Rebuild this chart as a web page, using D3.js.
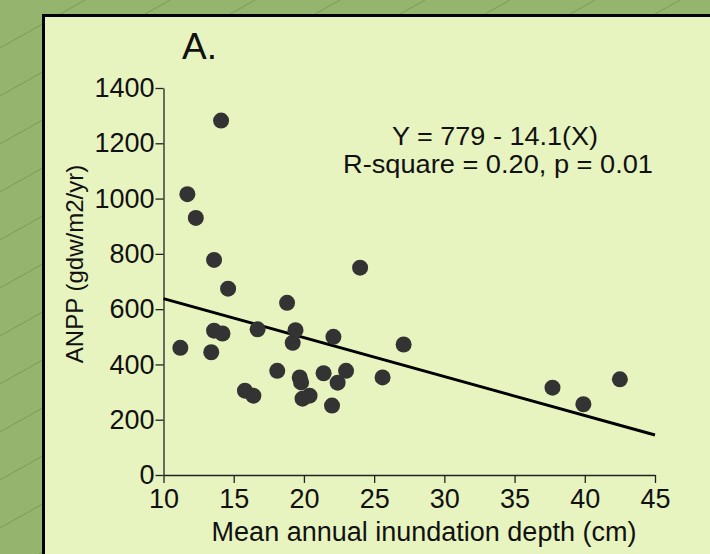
<html>
<head>
  <script src="https://d3js.org/d3.v7.min.js" charset="utf-8"></script>
  <style>
    * { margin: 0; padding: 0; }
    body { background: #94b56d; }
    svg text { font-family: "Liberation Sans", Arial, sans-serif; fill: #111; }
  </style>
</head>
<body>
<div id="graph"></div>
<script>
  // inundation depth (cm) and ANPP (gdw/m2/yr)
  var depth = [11.2, 11.7, 12.3, 13.4, 13.6, 13.6, 14.1, 14.2, 14.6, 15.8, 16.4,
    16.7, 18.1, 18.8, 19.2, 19.4, 19.7, 19.8, 19.9, 20.4, 21.4, 22.0, 22.1,
    22.4, 23.0, 24.0, 25.6, 27.1, 37.7, 39.9, 42.5];
  var anpp = [460, 1016, 930, 444, 778, 522, 1282, 512, 674, 305, 287,
    527, 377, 623, 478, 524, 353, 335, 276, 287, 368, 251, 500,
    334, 377, 750, 353, 472, 316, 256, 346];

  var xTicks = [10, 15, 20, 25, 30, 35, 40, 45];
  var yTicks = [0, 200, 400, 600, 800, 1000, 1200, 1400];

  var intercept = 779, slope = -14.1;
  var fitX = [10, 45];

  var w = 710, h = 554;

  var svg = d3.select("#graph").append("svg")
      .attr("width", w)
      .attr("height", h);

  // hatched green backdrop
  var pat = svg.append("defs").append("pattern")
      .attr("id", "hatch")
      .attr("patternUnits", "userSpaceOnUse")
      .attr("width", 85)
      .attr("height", 48);
  pat.append("rect").attr("width", 85).attr("height", 48).attr("fill", "#95b56e");
  pat.append("line")
      .attr("x1", 0).attr("y1", 48).attr("x2", 85).attr("y2", 0)
      .attr("stroke", "#6e8c4c").attr("stroke-width", 0.7);

  svg.append("rect").attr("width", w).attr("height", h).attr("fill", "url(#hatch)");

  // panel
  svg.append("rect")
      .attr("x", 43.5).attr("y", 15.5)
      .attr("width", 700).attr("height", 600)
      .attr("fill", "#e7f4c0")
      .attr("stroke", "#000")
      .attr("stroke-width", 3);

  var x = d3.scaleLinear().domain([10, 45]).range([163.5, 655]);
  var y = d3.scaleLinear().domain([0, 1400]).range([475, 88]);

  var yAxis = svg.append("g")
      .attr("transform", "translate(163.5,0)")
      .call(d3.axisLeft(y).tickValues(yTicks).tickFormat(d3.format("d"))
        .tickSize(8).tickPadding(1).tickSizeOuter(0));
  var xAxis = svg.append("g")
      .attr("transform", "translate(0,475)")
      .call(d3.axisBottom(x).tickValues(xTicks).tickFormat(d3.format("d"))
        .tickSize(8).tickPadding(6).tickSizeOuter(0));

  [xAxis, yAxis].forEach(function(g){
    g.selectAll("path, line").attr("stroke", "#222").attr("stroke-width", 1.3);
    g.selectAll("text").attr("font-size", 27).attr("fill", "#111")
      .style("font-family", "'Liberation Sans', Arial, sans-serif");
  });

  // fitted line
  var line = d3.line()
      .x(function(d){ return x(d); })
      .y(function(d){ return y(intercept + slope * d); });
  svg.append("path")
      .datum(fitX)
      .attr("d", line)
      .attr("fill", "none")
      .attr("stroke", "#000")
      .attr("stroke-width", 3);

  svg.selectAll("circle")
      .data(depth)
      .enter()
      .append("circle")
      .attr("cx", function(d){ return x(d); })
      .attr("cy", function(d, i){ return y(anpp[i]); })
      .attr("r", 8)
      .attr("fill", "#333");

  svg.append("text")
      .attr("x", 182).attr("y", 59)
      .attr("font-size", 37)
      .text("A.");

  svg.append("text")
      .attr("x", 495).attr("y", 145)
      .attr("text-anchor", "middle")
      .attr("font-size", 25)
      .attr("textLength", 206)
      .attr("lengthAdjust", "spacingAndGlyphs")
      .text("Y = 779 - 14.1(X)");
  svg.append("text")
      .attr("x", 498).attr("y", 173)
      .attr("text-anchor", "middle")
      .attr("font-size", 25)
      .attr("textLength", 310)
      .attr("lengthAdjust", "spacingAndGlyphs")
      .text("R-square = 0.20, p = 0.01");

  svg.append("text")
      .attr("x", 424).attr("y", 541)
      .attr("text-anchor", "middle")
      .attr("font-size", 27)
      .text("Mean annual inundation depth (cm)");

  svg.append("text")
      .attr("transform", "translate(83,264) rotate(-90)")
      .attr("text-anchor", "middle")
      .attr("font-size", 24)
      .text("ANPP (gdw/m2/yr)");
</script>
</body>
</html>
